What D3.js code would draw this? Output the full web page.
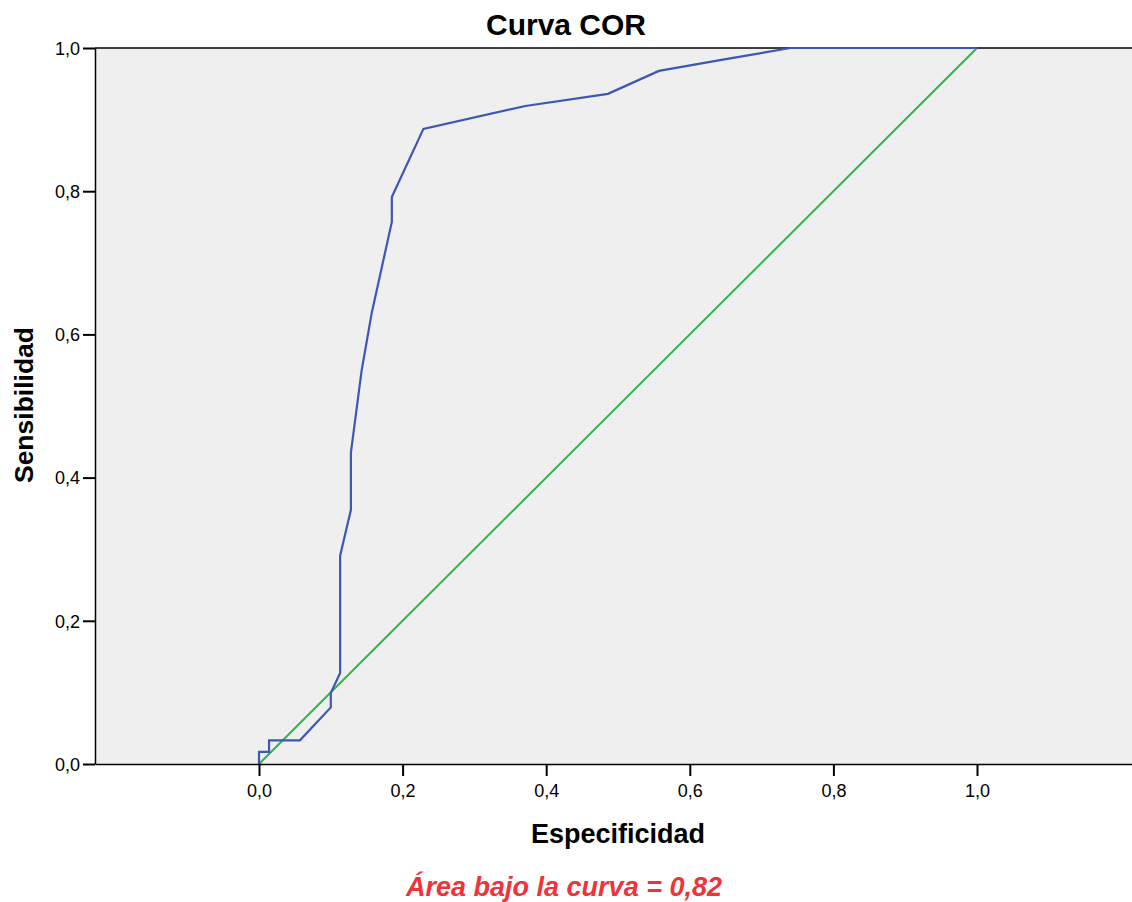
<!doctype html>
<html>
<head>
<meta charset="utf-8">
<style>
  body { margin: 0; background: #ffffff; font-family: "Liberation Sans", Arial, sans-serif; }
  svg { display: block; }
</style>
<script src="https://d3js.org/d3.v7.min.js"></script>
</head>
<body>
<div id="chart"></div>
<script>
// ROC curve points (1 - especificidad, sensibilidad)
var rocX = [0, 0, 0.014, 0.014, 0.057, 0.100, 0.100, 0.113, 0.113, 0.128, 0.128, 0.143, 0.157, 0.185, 0.185, 0.229, 0.371, 0.486, 0.557, 0.642, 0.740, 1.0];
var rocY = [0, 0.017, 0.017, 0.033, 0.033, 0.079, 0.099, 0.127, 0.291, 0.355, 0.435, 0.550, 0.630, 0.757, 0.792, 0.887, 0.919, 0.936, 0.968, 0.983, 1.0, 1.0];
// reference diagonal
var refX = [0, 1];
var refY = [0, 1];
var tickVals = [0, 0.2, 0.4, 0.6, 0.8, 1.0];
var areaText = "Área bajo la curva = 0,82";

var W = 1132, H = 902;
var margin = {top: 48, right: 0, bottom: 138, left: 95};
var width = W - margin.left - margin.right,
    height = H - margin.top - margin.bottom;

var svg = d3.select("#chart").append("svg")
    .attr("width", W)
    .attr("height", H);

var g = svg.append("g")
    .attr("transform", "translate(" + margin.left + "," + margin.top + ")");

// x: 0 sits at 259px, 1 at 977px
var x = d3.scaleLinear()
    .domain([-(259 - margin.left) / 718, (W - 259) / 718])
    .range([0, width]);
var y = d3.scaleLinear()
    .domain([0, 1])
    .range([height, 0]);

var fmt = function(d) { return d3.format(".1f")(d).replace(".", ","); };

// plot background
g.append("rect")
    .attr("width", width)
    .attr("height", height)
    .attr("fill", "#efefef");

// top border
g.append("line")
    .attr("x1", 0).attr("x2", width)
    .attr("y1", 0).attr("y2", 0)
    .attr("stroke", "#000").attr("stroke-width", 1.5);

// diagonal
var line = d3.line()
    .x(function(d) { return x(d[0]); })
    .y(function(d) { return y(d[1]); });

g.append("path")
    .datum(d3.zip(refX, refY))
    .attr("d", line)
    .attr("fill", "none")
    .attr("stroke", "#2fb544")
    .attr("stroke-width", 2);

g.append("path")
    .datum(d3.zip(rocX, rocY))
    .attr("d", line)
    .attr("fill", "none")
    .attr("stroke", "#3d57b4")
    .attr("stroke-width", 2.2)
    .attr("stroke-linejoin", "miter");

// axes
var xAxis = g.append("g")
    .attr("transform", "translate(0," + height + ")")
    .call(d3.axisBottom(x).tickValues(tickVals).tickFormat(fmt).tickSize(12).tickSizeOuter(0));
var yAxis = g.append("g")
    .call(d3.axisLeft(y).tickValues(tickVals).tickFormat(fmt).tickSize(12).tickSizeOuter(0));

[xAxis, yAxis].forEach(function(a) {
  a.select(".domain").attr("stroke", "#000").attr("stroke-width", 1.5);
  a.selectAll(".tick line").attr("stroke", "#000").attr("stroke-width", 2);
  a.selectAll(".tick text")
    .attr("fill", "#000")
    .style("font-family", "'Liberation Sans', Arial, sans-serif")
    .style("font-size", "18px");
});
xAxis.selectAll(".tick text").attr("dy", null).attr("y", 33);
yAxis.selectAll(".tick text").attr("x", -15).attr("dy", "0.35em");

// titles
svg.append("text")
    .attr("x", W / 2).attr("y", 35)
    .attr("text-anchor", "middle")
    .style("font-size", "30px").style("font-weight", "bold")
    .text("Curva COR");

svg.append("text")
    .attr("x", 618).attr("y", 843)
    .attr("text-anchor", "middle")
    .style("font-size", "27px").style("font-weight", "bold")
    .text("Especificidad");

svg.append("text")
    .attr("transform", "translate(33,405) rotate(-90)")
    .attr("text-anchor", "middle")
    .style("font-size", "26.5px").style("font-weight", "bold")
    .text("Sensibilidad");

svg.append("text")
    .attr("x", 564).attr("y", 896)
    .attr("text-anchor", "middle")
    .attr("fill", "#ee3339")
    .style("font-size", "27px").style("font-weight", "bold").style("font-style", "italic")
    .text(areaText);
</script>
</body>
</html>
